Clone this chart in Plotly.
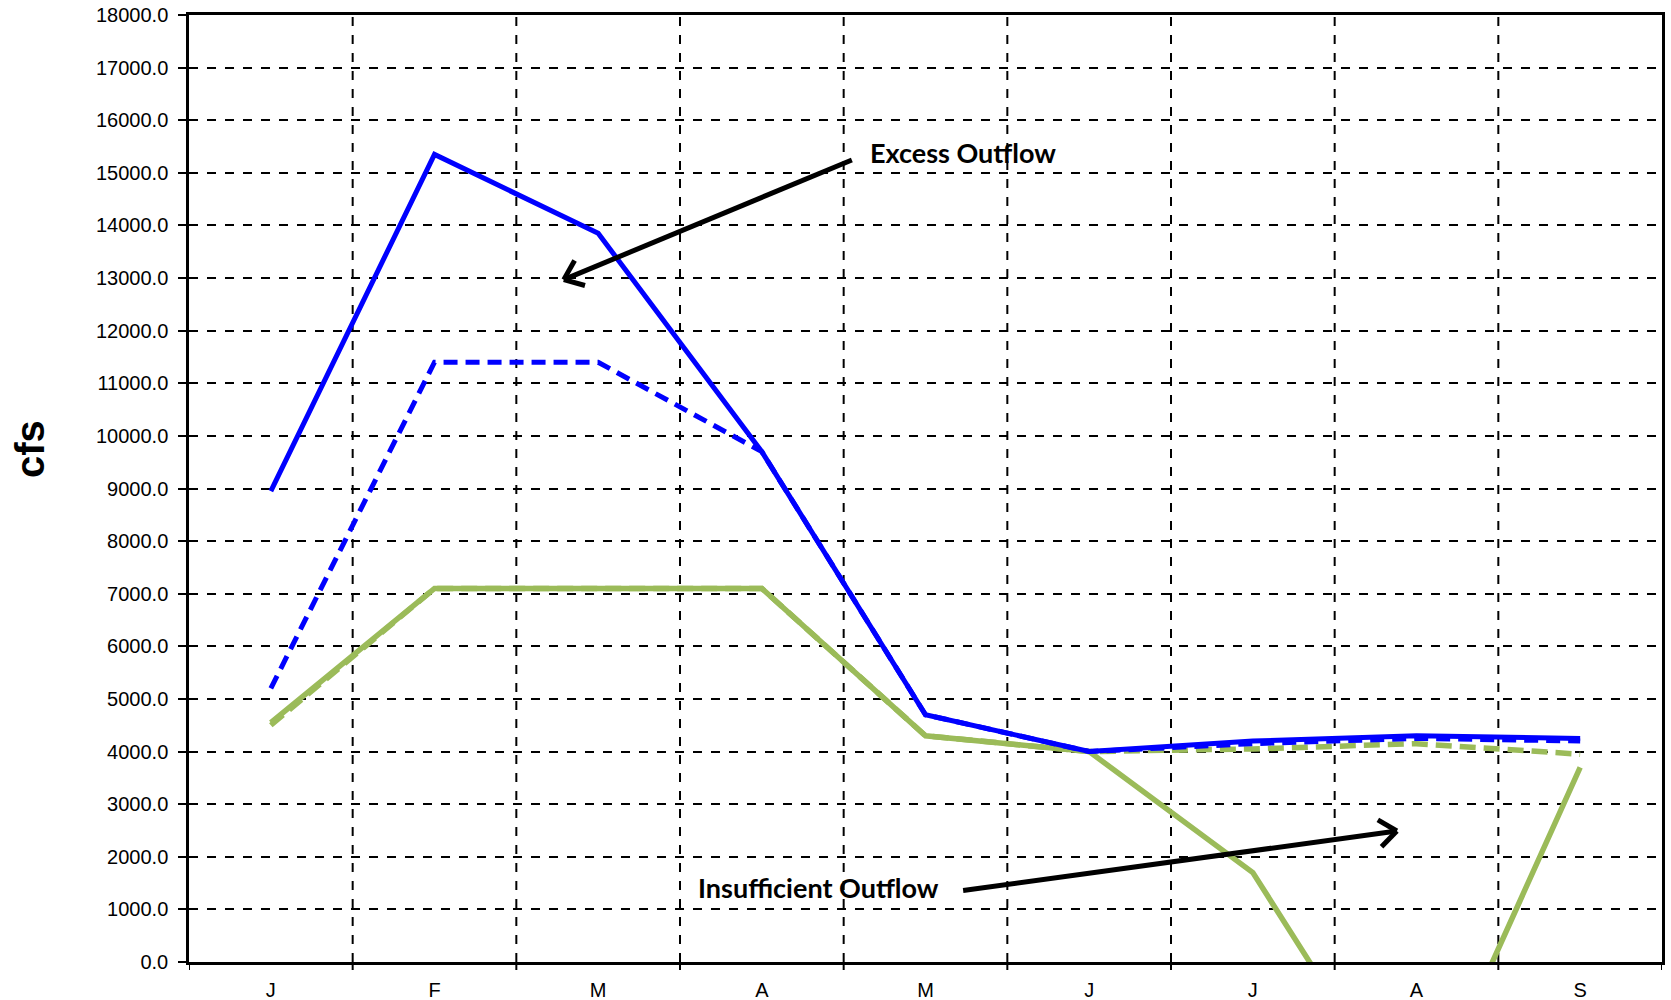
import math
import plotly.graph_objects as go

month_labels = ["J", "F", "M", "A", "M", "J", "J", "A", "S"]

blue_solid = [8950, 15350, 13850, 9700, 4700, 4000, 4200, 4300, 4250]
blue_dashed = [5200, 11400, 11400, 9700, 4700, 4000, 4150, 4250, 4200]
green_solid = [4550, 7100, 7100, 7100, 4300, 4000, 1700, -3200, 3700]
green_dashed = [4500, 7100, 7100, 7100, 4300, 4000, 4050, 4150, 3950]

y_ticks = list(range(0, 18001, 1000))
Y_MAX = 18000

BLUE = "#0000FF"
GREEN = "#9BBB59"
idx = list(range(len(month_labels)))

W, H = 1671, 1000
ML, MR, MT, MB = 189, 9, 15, 38
PW, PH = W - ML - MR, H - MT - MB
n = len(month_labels)
px_per_x = PW / n
px_per_y = PH / Y_MAX

fig = go.Figure()
fig.add_trace(go.Scatter(x=idx, y=green_dashed, mode="lines",
                         line=dict(color=GREEN, width=5.5, dash="16px,8px")))
fig.add_trace(go.Scatter(x=idx, y=green_solid, mode="lines",
                         line=dict(color=GREEN, width=5.5)))
fig.add_trace(go.Scatter(x=idx, y=blue_dashed, mode="lines",
                         line=dict(color=BLUE, width=5, dash="14px,8px")))
fig.add_trace(go.Scatter(x=idx, y=blue_solid, mode="lines",
                         line=dict(color=BLUE, width=5)))

annot_font = dict(family="Lato, Open Sans, sans-serif", size=27, color="black")

fig.update_layout(
    width=W, height=H,
    margin=dict(l=ML, r=MR, t=MT, b=MB),
    paper_bgcolor="white", plot_bgcolor="white",
    showlegend=False,
    font=dict(family="Liberation Sans, Arial, sans-serif", size=20, color="black"),
    xaxis=dict(
        range=[-0.5, n - 0.5], automargin=False,
        tickmode="array", tickvals=idx, ticktext=month_labels,
        showgrid=False, zeroline=False,
        showline=True, linecolor="black", linewidth=2.5, mirror=True,
        ticks="", ticklabelstandoff=8,
        tickfont=dict(size=20),
    ),
    yaxis=dict(
        range=[0, Y_MAX], tickvals=y_ticks, tickformat=".1f", automargin=False,
        showgrid=True, gridcolor="black", gridwidth=2, griddash="dash",
        zeroline=False,
        showline=True, linecolor="black", linewidth=2.5, mirror=True,
        ticks="outside", ticklen=8, tickcolor="black", tickwidth=2,
        ticklabelstandoff=6,
        tickfont=dict(size=20),
    ),
)

# vertical dashed gridlines at category boundaries and tick marks
for b in range(1, n):
    fig.add_shape(type="line", xref="x", yref="paper", x0=b - 0.5, x1=b - 0.5,
                  y0=0, y1=1, line=dict(color="black", width=2, dash="dash"), layer="below")
for b in range(0, n + 1):
    fig.add_shape(type="line", xref="x", yref="paper", x0=b - 0.5, x1=b - 0.5,
                  y0=0, y1=-8 / PH, line=dict(color="black", width=2))

# y-axis title
fig.add_annotation(xref="paper", yref="paper", x=(30 - ML) / PW, y=(H - MB - 449) / PH,
                   text="<b>cfs</b>", textangle=-90, showarrow=False,
                   font=dict(family="Liberation Sans, Arial, sans-serif", size=40, color="black"),
                   xanchor="center", yanchor="middle")


def open_arrow(x0, y0, x1, y1, width=5, wing=22, ang=38):
    """Arrow from (x0,y0) to head (x1,y1) in data coords, open chevron head."""
    fig.add_shape(type="line", xref="x", yref="y", x0=x0, y0=y0, x1=x1, y1=y1,
                  line=dict(color="black", width=width))
    dx = (x0 - x1) * px_per_x
    dy = (y0 - y1) * px_per_y
    L = math.hypot(dx, dy)
    ux, uy = dx / L, dy / L
    for s in (1, -1):
        a = math.radians(ang) * s
        wx = ux * math.cos(a) - uy * math.sin(a)
        wy = ux * math.sin(a) + uy * math.cos(a)
        fig.add_shape(type="line", xref="x", yref="y", x0=x1, y0=y1,
                      x1=x1 + wx * wing / px_per_x, y1=y1 + wy * wing / px_per_y,
                      line=dict(color="black", width=width))


open_arrow(3.55, 15244, 1.79, 12970)
open_arrow(4.23, 1358, 6.88, 2490)

fig.add_annotation(x=3.65, y=15396, xref="x", yref="y", text="<b>Excess Outflow</b>",
                   showarrow=False, xanchor="left", yanchor="middle", font=annot_font)
fig.add_annotation(x=2.60, y=1425, xref="x", yref="y", text="<b>Insufficient Outflow</b>",
                   showarrow=False, xanchor="left", yanchor="middle", font=annot_font)

fig.write_html("out.html", config={"displayModeBar": False},
               post_script="document.body.style.margin='0';")
